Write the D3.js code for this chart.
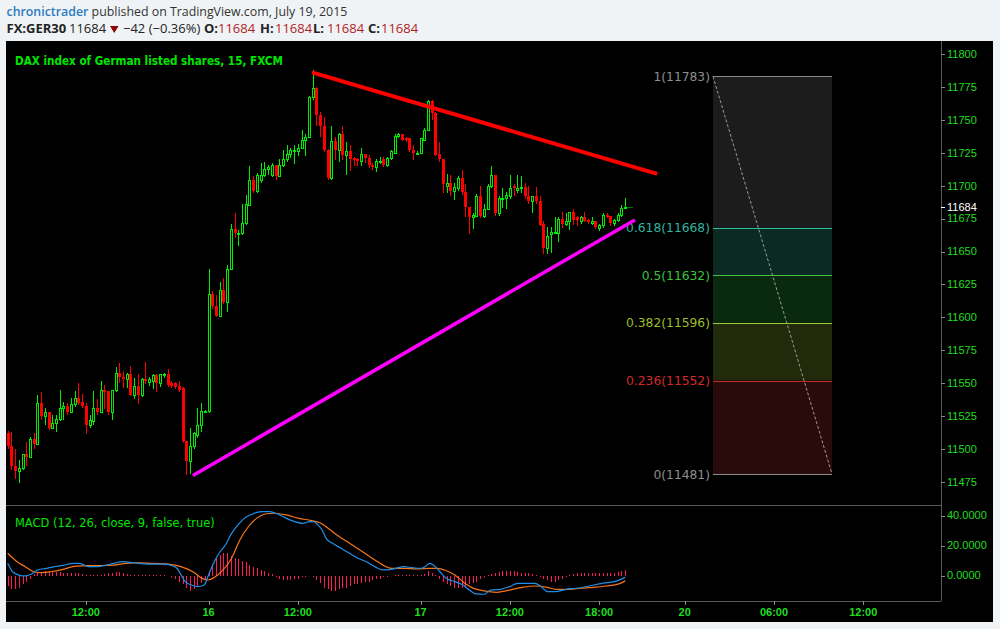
<!DOCTYPE html>
<html><head><meta charset="utf-8">
<script src="https://cdn.jsdelivr.net/npm/d3@7"></script>
<style>body{margin:0;background:#f0f3f6;} svg{display:block;}</style>
</head><body>
<svg id="c" width="1000" height="629"></svg>
<script>
// ---------- DATA ----------
// 15-minute candles [open, high, low, close]
const ohlc = [
[11512,11514,11501,11502],[11502,11513,11485,11487],[11487,11500,11478,11483],[11483,11492,11475,11486],
[11486,11496,11485,11496],[11496,11505,11488,11494],[11494,11509,11494,11508],[11508,11512,11501,11504],
[11504,11541,11504,11535],[11535,11543,11523,11525],[11525,11531,11519,11528],[11528,11528,11515,11516],
[11516,11526,11516,11520],[11520,11526,11514,11523],[11523,11545,11522,11531],[11531,11536,11523,11533],
[11533,11535,11527,11528],[11528,11539,11528,11534],[11534,11544,11533,11539],[11539,11550,11534,11535],
[11536,11542,11532,11533],[11533,11535,11512,11518],[11518,11526,11517,11522],[11521,11544,11519,11531],
[11531,11538,11527,11528],[11528,11552,11528,11545],[11545,11549,11531,11543],[11544,11544,11527,11528],
[11528,11545,11523,11545],[11545,11562,11544,11558],[11558,11565,11551,11555],[11555,11559,11547,11553],
[11553,11558,11547,11557],[11557,11563,11541,11541],[11541,11554,11539,11548],[11548,11557,11535,11541],
[11541,11554,11540,11553],[11553,11566,11550,11552],[11551,11555,11549,11553],[11552,11557,11546,11556],
[11556,11557,11544,11550],[11550,11557,11548,11557],[11556,11558,11555,11557],[11557,11561,11548,11549],
[11550,11552,11547,11548],[11550,11551,11546,11547],[11548,11552,11544,11545],[11546,11547,11505,11506],
[11506,11506,11481,11491],[11491,11516,11482,11502],[11502,11513,11501,11512],[11511,11531,11509,11518],
[11518,11535,11514,11529],[11529,11530,11528,11529],[11529,11637,11528,11618],[11618,11620,11607,11609],
[11609,11617,11601,11601],[11601,11627,11601,11621],[11621,11630,11611,11612],[11612,11640,11605,11637],
[11637,11671,11637,11667],[11667,11679,11661,11664],[11663,11666,11655,11664],[11664,11686,11663,11672],
[11672,11693,11671,11686],[11685,11715,11685,11704],[11704,11707,11695,11696],[11696,11710,11695,11708],
[11704,11717,11703,11708],[11708,11718,11707,11713],[11713,11716,11709,11714],[11708,11717,11707,11716],
[11716,11716,11705,11707],[11707,11720,11707,11716],[11716,11727,11715,11720],[11720,11731,11719,11724],
[11724,11729,11722,11727],[11726,11731,11717,11727],[11726,11732,11723,11729],[11729,11742,11729,11735],
[11735,11739,11723,11737],[11737,11768,11737,11767],[11767,11788,11766,11774],[11774,11775,11746,11754],
[11754,11756,11738,11745],[11745,11752,11726,11727],[11727,11728,11705,11706],[11706,11745,11705,11734],
[11734,11737,11720,11727],[11727,11740,11719,11739],[11739,11745,11720,11723],[11723,11733,11709,11726],
[11726,11731,11712,11720],[11721,11722,11716,11720],[11720,11721,11716,11719],[11719,11729,11716,11724],
[11724,11724,11718,11721],[11721,11723,11714,11716],[11716,11717,11713,11714],[11714,11720,11711,11719],
[11718,11722,11717,11719],[11720,11722,11715,11716],[11716,11722,11715,11721],[11721,11727,11720,11726],
[11725,11739,11725,11738],[11738,11740,11737,11739],[11739,11739,11735,11735],[11736,11737,11734,11735],
[11736,11736,11726,11727],[11727,11731,11720,11725],[11725,11726,11724,11725],[11725,11736,11725,11736],
[11735,11744,11735,11742],[11742,11765,11742,11764],[11764,11765,11751,11755],[11755,11756,11723,11723],
[11724,11733,11719,11720],[11720,11720,11695,11701],[11700,11709,11695,11702],[11702,11708,11693,11696],
[11696,11702,11690,11699],[11698,11707,11697,11706],[11706,11712,11694,11695],[11695,11701,11677,11684],
[11684,11684,11664,11676],[11676,11679,11668,11678],[11677,11694,11677,11692],[11692,11700,11676,11677],
[11677,11686,11676,11682],[11682,11701,11682,11700],[11700,11715,11699,11708],[11708,11708,11678,11679],
[11679,11692,11678,11691],[11690,11698,11684,11691],[11691,11695,11683,11693],[11692,11708,11691,11698],
[11700,11701,11693,11698],[11697,11708,11695,11698],[11698,11707,11695,11699],[11699,11702,11691,11692],
[11692,11700,11687,11688],[11688,11692,11680,11692],[11692,11699,11687,11688],[11688,11692,11670,11670],
[11671,11673,11649,11653],[11653,11669,11649,11662],[11663,11669,11650,11665],[11665,11676,11664,11665],
[11664,11676,11658,11675],[11675,11680,11669,11671],[11671,11679,11670,11673],[11673,11680,11667,11680],
[11680,11682,11671,11674],[11676,11677,11670,11674],[11673,11677,11672,11676],[11676,11680,11673,11673],
[11674,11675,11672,11673],[11672,11676,11671,11673],[11673,11673,11668,11669],[11668,11671,11666,11670],
[11670,11679,11669,11678],[11678,11679,11676,11676],[11677,11677,11670,11672],[11672,11675,11670,11674],
[11674,11679,11673,11678],[11678,11685,11677,11683],[11683,11691,11683,11684]
];
const lastPrice = 11684;
const priceTicks = [11475,11500,11525,11550,11575,11600,11625,11650,11675,11700,11725,11750,11775,11800];

// MACD line and signal line, [bar index, value]
const macdLine = [[0,8.1],[1.3,2.5],[3,0.3],[4.7,-0.3],[6.4,1],[8.1,3.7],[10.4,4.8],[12.6,5.9],[14.9,6.8],[17.7,8.1],[19.4,8.1],[21.7,5.9],[24,5.9],[26.2,6.8],[28.5,8.1],[30.8,9.2],[33,8.7],[35.3,8.1],[37.5,7.6],[39.8,7.6],[42.1,7.6],[43.8,6.9],[45.5,4.8],[46.6,0.4],[47.7,-4.1],[49.4,-6.3],[51.1,-7.4],[52.8,-6.3],[54,0.4],[55.1,6.9],[56.8,14.8],[58.5,20.3],[60.2,28.1],[61.9,33.7],[63.6,38.1],[65.8,41],[68.1,42.6],[70.4,42.6],[72.6,41],[74.9,38.1],[77.2,35.9],[79.4,34.8],[81.1,35.9],[82.2,35.9],[83.4,33.7],[84.5,30.3],[85.6,24.8],[87.3,21.5],[89.6,18.1],[91.9,14.8],[94.1,11.5],[96.4,9.2],[98.7,5.9],[100.9,3.7],[102.6,3.9],[104.3,4.8],[106.6,5.9],[108.8,5.2],[111.1,4.8],[112.2,5.9],[113.4,8.1],[114.5,6.9],[116.2,2.5],[117.9,-1.9],[120.2,-4.1],[122.4,-6.3],[124.1,-9.7],[125.8,-12.3],[128.1,-12.5],[129.8,-9.7],[132.6,-9.2],[134.9,-7.4],[137.1,-5.2],[139.4,-5.2],[141.7,-5.2],[143.4,-7.4],[145.1,-10.8],[147.3,-10.8],[150.1,-9.2],[152.9,-8.5],[156.4,-7],[159.8,-5.2],[163.2,-4.1],[165.4,-1.9],[166,-1.2]];
const signalLine = [[0,14.8],[2.5,9.2],[4.7,5.9],[7,2.5],[9.2,1.9],[11.5,2.5],[14.9,4.1],[18.3,6.3],[21.7,6.6],[25.1,6.6],[28.5,6.9],[31.9,8.1],[35.3,8.5],[38.7,8.1],[43.2,7.6],[46.6,5.9],[50,2.1],[52.2,-1.9],[53.9,-3],[55.6,-1.2],[57.9,3.7],[60.2,11.5],[62.4,23.7],[64.7,32.5],[66.9,38.1],[69.2,41],[71.5,41.5],[74.9,40.4],[78.3,38.1],[81.7,36.6],[83.9,35.2],[86.2,31.4],[88.5,27],[91.9,21.5],[95.3,16],[98.7,10.4],[100.9,6.9],[103.2,4.8],[106.6,4.8],[110,4.4],[113.4,4.8],[115.6,4.8],[117.9,3.2],[120.2,0.4],[122.4,-4.1],[124.7,-7.9],[128.1,-10.3],[131.5,-11.2],[134.9,-9.7],[138.3,-7.9],[141.7,-7],[145.1,-7.9],[147.3,-9.2],[150.7,-9.2],[154.1,-8.5],[157.5,-7.9],[160.9,-7],[164.3,-5.6],[166,-3.6]];
// MACD histogram, one value per candle
const histogram = [
-7,-9,-9,-8,-6,-4,-2,
1,2,2.5,3,3,3,2.5,2.5,2,2,2,1.5,1.5,1,
0.5,0.5,0.3,0.5,0.5,1,1.5,2,
2.5,2.5,2,1,
0.5,0.5,0.3,0.3,0.5,0.5,0.3,0.3,0.5,0.3,-0.5,-1,-2,
-4,-6,-8,-10,-9,-7,-5,-2,
3,8,12,14,15,15,13,12,11,10,9,7,6,5,4,3,2,1,
-1,-2,-3,-3,-3,-2,-2,-1,-1,-0.5,-1,
-3,-5,-8,-9,-10,-10,-9,-8,-8,-7,-6,-6,-5,-4,-4,-3,-2,-2,-1,-1,-0.5,
0.3,0.5,0.3,0.5,0.3,0.3,0.5,0.3,1,
3,2,0.5,
-2,-4,-6,-7,-8,-8,-8,-7,-6,-5,-4,-2,-1,
0.5,1,2,2.5,3,3,3,3,2.5,2,2,1.5,1,0.5,
-1,-2,-3,-4,-4,-3,-2,-1,
0.5,1,1.5,2,2,2,2,2,1.5,1.5,1.5,2,2,2.5,3,4
];
const macdTicks = [0, 20, 40];

// Trend lines [bar index, price]
const resistanceLine = [[81.8,11786],[174.6,11709]];
const supportLine = [[49.8,11480],[168.6,11674]];

// Fibonacci retracement
const fibRatios = ["1","0.618","0.5","0.382","0.236","0"];
const fibPrices = [11783,11668,11632,11596,11552,11481];
const fibSpan = [189.6, 221.6];   // bar index range of the tool

// Time axis
const timeTicks = [21,54,78,111,135,159,182,206,230];
const timeLabels = ["12:00","16","12:00","17","12:00","18:00","20","06:00","12:00"];

// ---------- STYLE ----------
const GREEN="#00ee00", RED="#ff0000", AXIS="#21dd21", GRID="#5a5a5a";
const fibText=["#8f8f8f","#2fb5a0","#3cc23c","#9bbf25","#d22a2a","#8f8f8f"];
const fibStroke=["#8a8a8a","#2fbf9f","#44c044","#99cc33","#c03020","#8a8a8a"];
const fibFill=["#1c1c1c","#0a2a22","#0a2a10","#212a0b","#2a0b0b"];

const svg = d3.select("#c");
const L=6, R=941, RE=993, T=41, PB=505, MB=601, BOT=622;

const x = d3.scaleLinear().domain([0,166]).range([7.7,625.2]);
const y = d3.scaleLinear().domain([11475,11800]).range([482,54]);
const ym = d3.scaleLinear().domain([0,40]).range([575.5,515.5]);

function fitWidth(sel, target){
  const fs = parseFloat(sel.attr("font-size"));
  const w = sel.node().getComputedTextLength();
  if (w > 0) sel.attr("font-size", fs*target/w);
  return fs*target/w;
}

// background panels
svg.append("rect").attr("width",1000).attr("height",629).attr("fill","#f0f3f6");
svg.append("rect").attr("x",L).attr("y",T).attr("width",RE-L).attr("height",BOT-T).attr("fill","#000");

const defs = svg.append("defs");
defs.append("clipPath").attr("id","cp").append("rect").attr("x",L).attr("y",T).attr("width",R-L).attr("height",PB-T);
defs.append("clipPath").attr("id","cm").append("rect").attr("x",L).attr("y",PB+1).attr("width",R-L).attr("height",MB-PB-1);

// ---------- Header ----------
const h1 = svg.append("text").attr("x",6.5).attr("y",16).attr("font-family","'Open Sans'").attr("font-size",13.5);
h1.append("tspan").attr("fill","#2b7bbf").attr("font-weight",600).text("chronictrader");
h1.append("tspan").attr("fill","#333").text(" published on TradingView.com, July 19, 2015");
fitWidth(h1, 341);

const h2 = [
 ["FX:GER30",6.5,700,"#222"],["11684",69,400,"#222"],["\u221242 (\u22120.36%)",123,400,"#222"],
 ["O:",204,700,"#222"],["11684",218,400,"#b21f1f"],["H:",260,700,"#222"],["11684",275,400,"#b21f1f"],
 ["L:",313,700,"#222"],["11684",327,400,"#b21f1f"],["C:",368,700,"#222"],["11684",381,400,"#b21f1f"]];
svg.append("g").selectAll("text").data(h2).join("text")
  .attr("x",d=>d[1]).attr("y",33).attr("font-family","'Open Sans'").attr("font-size",13)
  .attr("font-weight",d=>d[2]).attr("fill",d=>d[3]).text(d=>d[0]);
svg.append("path").attr("d","M110,26 L118.5,26 L114.25,33 Z").attr("fill","#8b0000");

// ---------- Fib tool ----------
const fg = svg.append("g").attr("clip-path","url(#cp)");
const fx0 = x(fibSpan[0]), fx1 = x(fibSpan[1]);
fg.selectAll("rect.zone").data(fibFill).join("rect")
  .attr("x",fx0).attr("width",fx1-fx0)
  .attr("y",(d,i)=>y(fibPrices[i])).attr("height",(d,i)=>y(fibPrices[i+1])-y(fibPrices[i]))
  .attr("fill",d=>d);
fg.selectAll("line.lvl").data(fibPrices).join("line")
  .attr("x1",fx0).attr("x2",fx1).attr("y1",d=>Math.round(y(d))+0.5).attr("y2",d=>Math.round(y(d))+0.5)
  .attr("stroke",(d,i)=>fibStroke[i]).attr("stroke-width",1);
fg.append("line").attr("x1",fx0).attr("y1",y(fibPrices[0])).attr("x2",fx1).attr("y2",y(fibPrices[5]))
  .attr("stroke","#9a9a9a").attr("stroke-width",1).attr("stroke-dasharray","3,2");
const fibLabels = fg.selectAll("text.fl").data(fibPrices).join("text")
  .attr("x",fx0-3).attr("y",d=>y(d)).attr("dy","0.36em").attr("text-anchor","end")
  .attr("font-family","'DejaVu Sans'").attr("font-size",12).attr("fill",(d,i)=>fibText[i])
  .text((d,i)=>fibRatios[i]+"("+d+")");
(function(){
  const ref = fibLabels.filter((d,i)=>i===1);
  const w = ref.node().getComputedTextLength();
  fibLabels.attr("font-size", 12*84/w);
})();

// ---------- Candles ----------
const cg = svg.append("g").attr("clip-path","url(#cp)");
const cx = i => Math.round(x(i))+0.5;
const py = v => Math.round(y(v));
cg.selectAll("line.wick").data(ohlc).join("line")
  .attr("x1",(d,i)=>cx(i)).attr("x2",(d,i)=>cx(i))
  .attr("y1",d=>py(d[1])).attr("y2",d=>py(d[2])+1)
  .attr("stroke",d=>d[3]>=d[0]?GREEN:RED).attr("stroke-width",1);
cg.selectAll("rect.body").data(ohlc).join("rect")
  .each(function(d,i){
    const up=d[3]>=d[0];
    const top=py(Math.max(d[0],d[3])), bot=py(Math.min(d[0],d[3]));
    const s=d3.select(this);
    if(up){
      s.attr("x",cx(i)-1).attr("y",top+0.5).attr("width",2).attr("height",Math.max(bot-top,1))
       .attr("fill","#000").attr("stroke",GREEN).attr("stroke-width",1);
    } else {
      s.attr("x",cx(i)-1.5).attr("y",top).attr("width",3).attr("height",Math.max(bot-top,2))
       .attr("fill",RED);
    }
  });
// last price dotted marker
cg.append("line").attr("x1",cx(166)+2).attr("x2",cx(166)+8).attr("y1",py(lastPrice)+0.5).attr("y2",py(lastPrice)+0.5)
  .attr("stroke",GREEN).attr("stroke-dasharray","1,1");

// ---------- Trend lines ----------
cg.append("line").attr("x1",x(resistanceLine[0][0])).attr("y1",y(resistanceLine[0][1]))
  .attr("x2",x(resistanceLine[1][0])).attr("y2",y(resistanceLine[1][1]))
  .attr("stroke","#ff0000").attr("stroke-width",4);
cg.append("line").attr("x1",x(supportLine[0][0])).attr("y1",y(supportLine[0][1]))
  .attr("x2",x(supportLine[1][0])).attr("y2",y(supportLine[1][1]))
  .attr("stroke","#ff00ff").attr("stroke-width",3.5);

// title
const title = svg.append("text").attr("x",15).attr("y",65).attr("font-family","'DejaVu Sans Condensed','DejaVu Sans'")
  .attr("font-weight","bold").attr("font-size",12.5).attr("fill","#00e600").text("DAX index of German listed shares, 15, FXCM");
fitWidth(title, 268);

// ---------- MACD ----------
const mg = svg.append("g").attr("clip-path","url(#cm)");
mg.selectAll("line.h").data(histogram).join("line")
  .attr("x1",(d,i)=>cx(i)).attr("x2",(d,i)=>cx(i))
  .attr("y1",Math.round(ym(0))).attr("y2",d=>Math.round(ym(d)))
  .attr("stroke","#ff1a5e").attr("stroke-width",1);
const ln = d3.line().x(d=>x(d[0])).y(d=>ym(d[1])).curve(d3.curveMonotoneX);
mg.append("path").attr("d",ln(signalLine)).attr("fill","none").attr("stroke","#f5761a").attr("stroke-width",1.2);
mg.append("path").attr("d",ln(macdLine)).attr("fill","none").attr("stroke","#1e8fe6").attr("stroke-width",1.2);

const ml = svg.append("text").attr("x",15).attr("y",527).attr("font-family","'DejaVu Sans Condensed','DejaVu Sans'")
  .attr("font-size",12).attr("fill","#00e600").text("MACD (12, 26, close, 9, false, true)");
fitWidth(ml, 200);

// ---------- Axes / frame ----------
svg.append("line").attr("x1",L).attr("x2",R).attr("y1",PB+0.5).attr("y2",PB+0.5).attr("stroke",GRID);
svg.append("line").attr("x1",L).attr("x2",R).attr("y1",MB+0.5).attr("y2",MB+0.5).attr("stroke",GRID);
svg.append("line").attr("x1",R+0.5).attr("x2",R+0.5).attr("y1",T).attr("y2",MB).attr("stroke",GRID);

const ay = svg.append("g");
ay.selectAll("line").data(priceTicks).join("line")
  .attr("x1",R).attr("x2",R+4).attr("y1",d=>Math.round(y(d))+0.5).attr("y2",d=>Math.round(y(d))+0.5).attr("stroke","#888");
ay.selectAll("text").data(priceTicks).join("text")
  .attr("x",R+6).attr("y",d=>y(d)).attr("dy","0.35em").attr("font-family","'Liberation Sans'").attr("font-size",11)
  .attr("fill",AXIS).text(d=>d);
// current price label
ay.append("rect").attr("x",R+1).attr("y",y(lastPrice)-6).attr("width",40).attr("height",12).attr("fill","#000");
ay.append("line").attr("x1",R).attr("x2",R+4).attr("y1",Math.round(y(lastPrice))+0.5).attr("y2",Math.round(y(lastPrice))+0.5).attr("stroke","#fff");
ay.append("text").attr("x",R+6).attr("y",y(lastPrice)).attr("dy","0.35em").attr("font-family","'Liberation Sans'")
  .attr("font-size",11).attr("fill","#fff").text(lastPrice);

const am = svg.append("g");
am.selectAll("line").data(macdTicks).join("line")
  .attr("x1",R).attr("x2",R+4).attr("y1",d=>Math.round(ym(d))+0.5).attr("y2",d=>Math.round(ym(d))+0.5).attr("stroke","#888");
am.selectAll("text").data(macdTicks).join("text")
  .attr("x",R+6).attr("y",d=>ym(d)).attr("dy","0.35em").attr("font-family","'Liberation Sans'").attr("font-size",11)
  .attr("fill",AXIS).text(d=>d3.format(".4f")(d));

const at = svg.append("g");
at.selectAll("line").data(timeTicks).join("line")
  .attr("x1",d=>Math.round(x(d))+0.5).attr("x2",d=>Math.round(x(d))+0.5).attr("y1",MB).attr("y2",MB+4).attr("stroke","#888");
at.selectAll("text").data(timeTicks).join("text")
  .attr("x",d=>x(d)).attr("y",616).attr("text-anchor","middle").attr("font-family","'Liberation Sans'")
  .attr("font-size",11).attr("font-weight","bold").attr("fill",AXIS).text((d,i)=>timeLabels[i]);
</script>
</body></html>
